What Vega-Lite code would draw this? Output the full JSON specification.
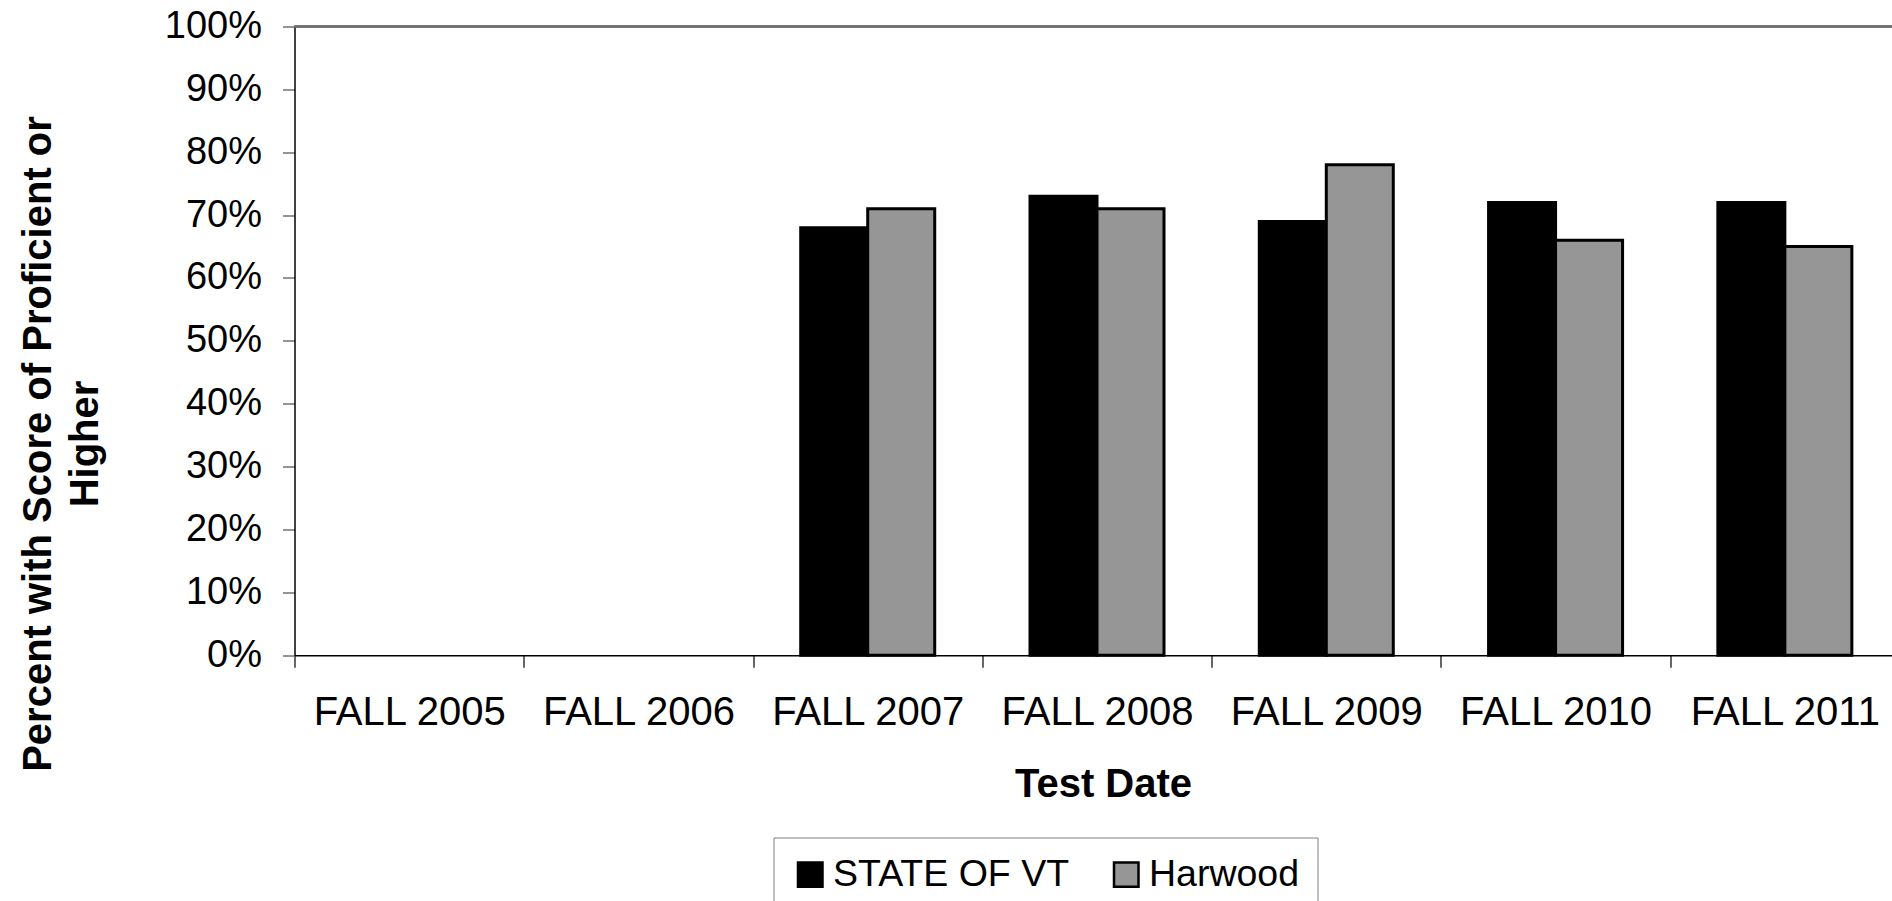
{
  "$schema": "https://vega.github.io/schema/vega-lite/v6.json",
  "width": 1597.5,
  "height": 628.7,
  "autosize": {"type": "none"},
  "padding": {"left": 294.5, "top": 26.5, "right": 0, "bottom": 245.8},
  "background": "white",
  "config": {
    "view": {"stroke": null},
    "font": "Liberation Sans",
    "axis": {"labelFont": "Liberation Sans", "titleFont": "Liberation Sans", "labelColor": "black", "titleColor": "black", "labelLimit": 0, "titleLimit": 0},
    "legend": {"labelFont": "Liberation Sans", "labelLimit": 0}
  },
  "data": {
    "values": [
      {"date": "FALL 2007", "series": "STATE OF VT", "pct": 0.68},
      {"date": "FALL 2007", "series": "Harwood", "pct": 0.71},
      {"date": "FALL 2008", "series": "STATE OF VT", "pct": 0.73},
      {"date": "FALL 2008", "series": "Harwood", "pct": 0.71},
      {"date": "FALL 2009", "series": "STATE OF VT", "pct": 0.69},
      {"date": "FALL 2009", "series": "Harwood", "pct": 0.78},
      {"date": "FALL 2010", "series": "STATE OF VT", "pct": 0.72},
      {"date": "FALL 2010", "series": "Harwood", "pct": 0.66},
      {"date": "FALL 2011", "series": "STATE OF VT", "pct": 0.72},
      {"date": "FALL 2011", "series": "Harwood", "pct": 0.65}
    ]
  },
  "layer": [
    {
      "mark": {"type": "bar", "stroke": "black", "strokeWidth": 3},
      "encoding": {
        "x": {
          "field": "date",
          "type": "nominal",
          "scale": {
            "domain": ["FALL 2005", "FALL 2006", "FALL 2007", "FALL 2008", "FALL 2009", "FALL 2010", "FALL 2011"],
            "range": [0, 1605],
            "paddingInner": 0,
            "paddingOuter": 0
          },
          "axis": {
            "title": "Test Date",
            "titleFontSize": 40,
            "titleFontWeight": "bold",
            "titleX": 808.5,
            "titleY": 141,
            "titleAlign": "center",
            "titleBaseline": "alphabetic",
            "labelAngle": 0,
            "labelFontSize": 40,
            "labelBaseline": "alphabetic",
            "labelPadding": 57,
            "labelLimit": 0,
            "tickSize": 12,
            "tickBand": "extent",
            "tickColor": "black",
            "domainColor": "black",
            "domainWidth": 1.5,
            "tickWidth": 1.2,
            "grid": false
          }
        },
        "xOffset": {
          "field": "series",
          "type": "nominal",
          "scale": {"domain": ["STATE OF VT", "Harwood"], "paddingOuter": 0.711, "paddingInner": 0}
        },
        "y": {
          "field": "pct",
          "type": "quantitative",
          "scale": {"domain": [0, 1], "nice": false},
          "axis": {
            "title": ["Percent with Score of Proficient or", "Higher"],
            "titleFontSize": 40,
            "titleFontWeight": "bold",
            "titleAngle": -90,
            "titleAlign": "center",
            "titleBaseline": "alphabetic",
            "titleLineHeight": 47,
            "titleX": -244.5,
            "titleY": 417,
            "values": [0, 0.1, 0.2, 0.3, 0.4, 0.5, 0.6, 0.7, 0.8, 0.9, 1],
            "format": ".0%",
            "labelFontSize": 38,
            "labelPadding": 21,
            "tickSize": 12,
            "tickColor": "#707070",
            "tickWidth": 1.5,
            "domainColor": "black",
            "domainWidth": 1.5,
            "grid": false
          }
        },
        "color": {
          "field": "series",
          "type": "nominal",
          "scale": {"domain": ["STATE OF VT", "Harwood"], "range": ["#000000", "#969696"]},
          "legend": {
            "title": null,
            "orient": "none",
            "direction": "horizontal",
            "legendX": 479,
            "legendY": 811,
            "strokeColor": "#808080",
            "padding": 18,
            "labelFontSize": 37.5,
            "labelOffset": 4,
            "labelLimit": 0,
            "columnPadding": 38,
            "symbolType": "square",
            "symbolSize": 600,
            "symbolStrokeColor": "black",
            "symbolStrokeWidth": 2.5,
            "symbolOpacity": 1
          }
        }
      }
    },
    {
      "mark": {"type": "rule", "color": "#707070", "strokeWidth": 1.5},
      "encoding": {"y": {"datum": 1}}
    }
  ]
}
